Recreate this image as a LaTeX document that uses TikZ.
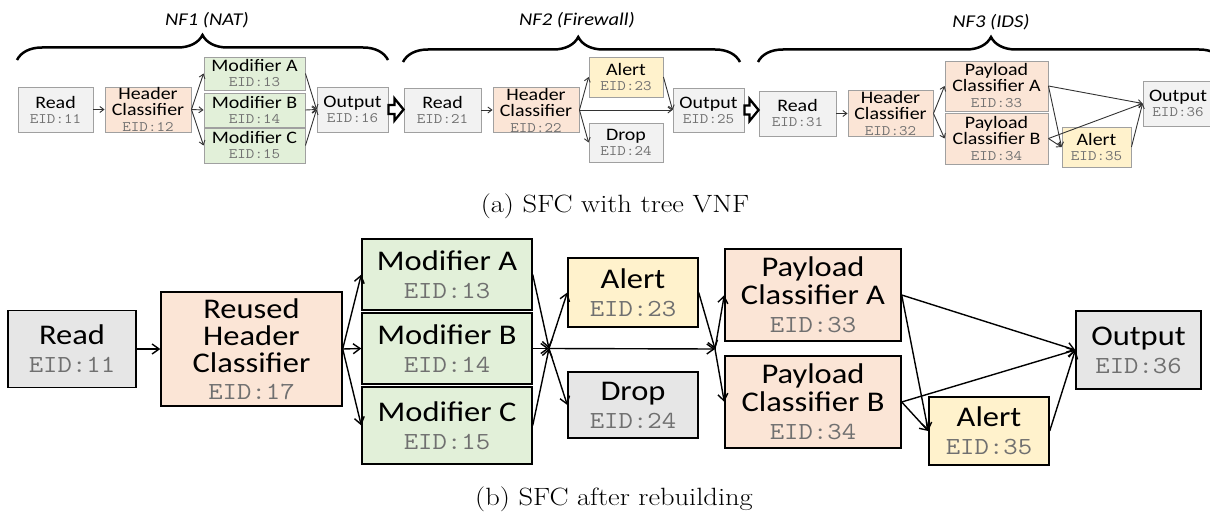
\documentclass[tikz,border=0pt]{standalone}
\usepackage{fontspec}
\usepackage{graphicx}
\usetikzlibrary{arrows.meta,decorations.pathreplacing,calc}
\newfontfamily\calfont{Carlito}
\definecolor{gfill}{HTML}{F2F2F2}
\definecolor{gfillb}{HTML}{E6E6E6}
\definecolor{pfill}{HTML}{FBE5D6}
\definecolor{grfill}{HTML}{E2F0D9}
\definecolor{yfill}{HTML}{FFF2CC}
\definecolor{edgeg}{HTML}{A0A0A0}
\definecolor{eidc}{HTML}{707070}
\definecolor{lineg}{HTML}{333333}
% slightly widened lettering
\newcommand\nm[1]{\scalebox{1.14}[1]{#1}}
\newcommand\eidt[1]{\scalebox{1.14}[1]{\color{eidc}\ttfamily\fontsize{14.5}{15}\selectfont EID:#1}}
\newcommand\eidb[1]{\scalebox{1.14}[1]{\color{eidc}\ttfamily\fontsize{24.5}{28}\selectfont EID:#1}}
% hollow block arrow between two boxes
\newcommand\blockarrow[2]{%
  \draw[hollow] ($(#1.east)+(0,-4.5)$) -- ($(#2.west|-#1.east)+(-9,-4.5)$)
    -- ($(#2.west|-#1.east)+(-9,-11)$) -- (#2.west|-#1.east)
    -- ($(#2.west|-#1.east)+(-9,11)$) -- ($(#2.west|-#1.east)+(-9,4.5)$)
    -- ($(#1.east)+(0,4.5)$) -- cycle;}
\begin{document}
\begin{tikzpicture}[x=1pt,y=-1pt,
  tbox/.style={draw=edgeg, line width=0.9pt, inner sep=0pt, align=center,
    font=\calfont\fontsize{17.5}{15}\selectfont},
  tall/.style={font=\calfont\fontsize{17.5}{16}\selectfont},
  bbox/.style={draw=black, line width=1.4pt, inner sep=0pt, align=center,
    font=\calfont\fontsize{28.5}{28}\selectfont},
  tgrey/.style={tbox, fill=gfill},
  tpeach/.style={tbox, fill=pfill},
  tgreen/.style={tbox, fill=grfill},
  tyellow/.style={tbox, fill=yfill},
  bgrey/.style={bbox, fill=gfillb},
  bpeach/.style={bbox, fill=pfill},
  bgreen/.style={bbox, fill=grfill},
  byellow/.style={bbox, fill=yfill},
  tarr/.style={draw=lineg, line width=0.9pt, -{Straight Barb[length=4pt,width=6pt]}},
  barr/.style={draw=black, line width=1.4pt, -{Straight Barb[length=7pt,width=10pt]}},
  hollow/.style={draw=black, line width=2.3pt, fill=white, line join=miter},
  curly/.style={decorate, line width=2.5pt, decoration={brace, amplitude=25pt}},
  nflabel/.style={font=\calfont\itshape\fontsize{18}{20}\selectfont},
  caption/.style={font=\fontsize{25}{30}\selectfont}]
\useasboundingbox (0,0) rectangle (1210,516);

% ---------- (a) chain of three functions ----------
\node[tgrey,   minimum width=75,  minimum height=45] (r11) at (55.5,109.5) {\nm{Read}\\\eidt{11}};
\node[tpeach, tall, minimum width=86,  minimum height=45] (h12) at (148,109.5)  {\nm{Header}\\\nm{Classifier}\\\eidt{12}};
\node[tgreen,  minimum width=101, minimum height=33] (m13) at (254.5,73.5) {\nm{Modifier A}\\\eidt{13}};
\node[tgreen,  minimum width=101, minimum height=34] (m14) at (254.5,110)  {\nm{Modifier B}\\\eidt{14}};
\node[tgreen,  minimum width=101, minimum height=35] (m15) at (254.5,145.5){\nm{Modifier C}\\\eidt{15}};
\node[tgrey,   minimum width=71,  minimum height=45] (o16) at (352.5,109.5){\nm{Output}\\\eidt{16}};

\node[tgrey,   minimum width=77,  minimum height=44] (r21) at (442.5,110)  {\nm{Read}\\\eidt{21}};
\node[tpeach, tall, minimum width=86,  minimum height=44] (h22) at (536,110)    {\nm{Header}\\\nm{Classifier}\\\eidt{22}};
\node[tyellow, minimum width=74,  minimum height=40] (a23) at (626,77)     {\nm{Alert}\\\eidt{23}};
\node[tgrey,   minimum width=74,  minimum height=39] (d24) at (626,142.5)  {\nm{Drop}\\\eidt{24}};
\node[tgrey,   minimum width=71,  minimum height=44] (o25) at (708.5,110)  {\nm{Output}\\\eidt{25}};

\node[tgrey,   minimum width=77,  minimum height=45] (r31) at (797.5,113.5){\nm{Read}\\\eidt{31}};
\node[tpeach, tall, minimum width=85,  minimum height=46] (h32) at (890.5,113.5){\nm{Header}\\\nm{Classifier}\\\eidt{32}};
\node[tpeach, tall, minimum width=103, minimum height=50] (p33) at (996.5,86)   {\nm{Payload}\\\nm{Classifier A}\\\eidt{33}};
\node[tpeach, tall, minimum width=103, minimum height=51] (p34) at (996.5,138.5){\nm{Payload}\\\nm{Classifier B}\\\eidt{34}};
\node[tyellow, minimum width=69,  minimum height=40] (a35) at (1096.5,147) {\nm{Alert}\\\eidt{35}};
\node[tgrey,   minimum width=70,  minimum height=45] (o36) at (1178,103.5) {\nm{Output}\\\eidt{36}};

\draw[tarr] (r11) -- (h12);
\foreach \m in {m13,m14,m15} {
  \draw[tarr] (h12.east) -- (\m.west);
  \draw[tarr] (\m.east) -- (o16.west);
}
\blockarrow{o16}{r21}
\draw[tarr] (r21) -- (h22);
\draw[tarr] (h22.east) -- (a23.west);
\draw[tarr] (h22.east) -- (o25.west);
\draw[tarr] (h22.east) -- (d24.west);
\draw[tarr] (a23.east) -- (o25.west);
\blockarrow{o25}{r31}
\draw[tarr] (r31) -- (h32);
\draw[tarr] (h32.east) -- (p33.west);
\draw[tarr] (h32.east) -- (p34.west);
\foreach \p in {p33,p34} {
  \draw[tarr] (\p.east) -- (o36.west);
  \draw[tarr] (\p.east) -- (a35.west);
}
\draw[tarr] (a35.east) -- (o36.west);

% braces over each function
\draw[curly] (17,60) -- (388,60);
\draw[curly, decoration={aspect=0.52}] (403,62) -- (740,62);
\draw[curly] (758,62) -- (1224,62);
\node[nflabel] (nf1) at (207,20) {\nm{NF1 (NAT)}};
\node[nflabel] (nf2) at (577,20) {\nm{NF2 (Firewall)}};
\node[nflabel] (nf3) at (991,22) {\nm{NF3 (IDS)}};

\node[caption] (capa) at (615,206) {\nm{(a) SFC with tree VNF}};

% ---------- (b) rebuilt chain ----------
\node[bgrey,   minimum width=128, minimum height=77]  (R11) at (72,349)    {\nm{Read}\\\eidb{11}};
\node[bpeach,  minimum width=181, minimum height=114, font=\calfont\fontsize{28.5}{27}\selectfont] (H17) at (251.5,349) {\nm{Reused}\\\nm{Header}\\\nm{Classifier}\\\eidb{17}};
\node[bgreen,  minimum width=170, minimum height=71]  (M13) at (447,274.5) {\nm{Modifier A}\\\eidb{13}};
\node[bgreen,  minimum width=170, minimum height=71]  (M14) at (447,348.5) {\nm{Modifier B}\\\eidb{14}};
\node[bgreen,  minimum width=170, minimum height=77]  (M15) at (447,425.5) {\nm{Modifier C}\\\eidb{15}};
\coordinate (j1) at (549,348.5);
\node[byellow, minimum width=130, minimum height=69]  (A23) at (633,292.5) {\nm{Alert}\\\eidb{23}};
\node[bgrey,   minimum width=130, minimum height=66]  (D24) at (633,405)   {\nm{Drop}\\\eidb{24}};
\coordinate (j2) at (715,349);
\node[bpeach,  minimum width=176, minimum height=92]  (P33) at (813,295)   {\nm{Payload}\\\nm{Classifier A}\\\eidb{33}};
\node[bpeach,  minimum width=176, minimum height=92]  (P34) at (813,402)   {\nm{Payload}\\\nm{Classifier B}\\\eidb{34}};
\node[byellow, minimum width=120, minimum height=68]  (A35) at (989,431)   {\nm{Alert}\\\eidb{35}};
\node[bgrey,   minimum width=125, minimum height=78]  (O36) at (1138.5,350){\nm{Output}\\\eidb{36}};

\draw[barr] (R11) -- (H17);
\foreach \m in {M13,M14,M15} {
  \draw[barr] (H17.east) -- (\m.west);
  \draw[barr] (\m.east) -- (j1);
}
\draw[barr] (j1) -- (A23.west);
\draw[barr] (j1) -- (D24.west);
\draw[barr] (j1) -- (j2);
\draw[barr] (A23.east) -- (j2);
\draw[barr] (j2) -- (P33.west);
\draw[barr] (j2) -- (P34.west);
\foreach \p in {P33,P34} {
  \draw[barr] (\p.east) -- (O36.west);
  \draw[barr] (\p.east) -- (A35.west);
}
\draw[barr] (A35.east) -- (O36.west);

\node[caption] (capb) at (614,499) {\nm{(b) SFC after rebuilding}};
\end{tikzpicture}
\end{document}
